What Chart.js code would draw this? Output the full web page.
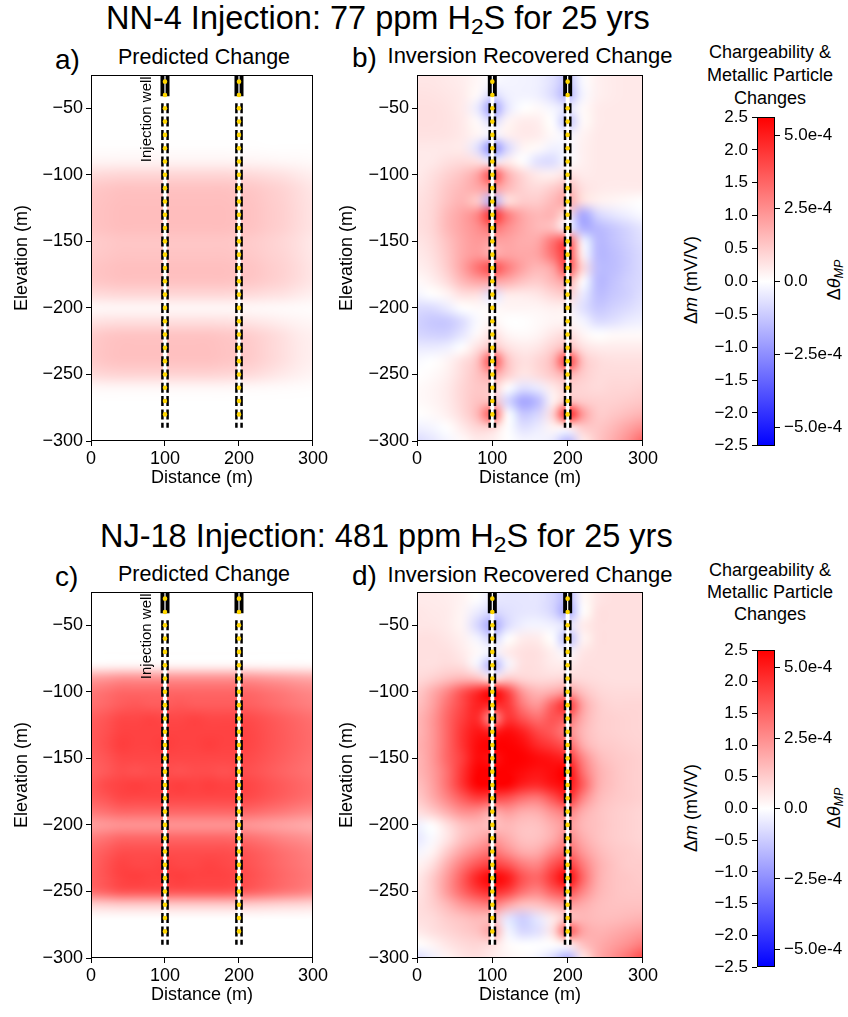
<!DOCTYPE html>
<html>
<head>
<meta charset="utf-8">
<script src="https://cdn.jsdelivr.net/npm/chart.js@4.4.1/dist/chart.umd.min.js"></script>
<style>
  body { margin: 0; background: #fff; width: 848px; height: 1017px; position: relative; overflow: hidden;
         font-family: "Liberation Sans", Arial, Helvetica, sans-serif; color: #000; }
  canvas { position: absolute; }
  .t { position: absolute; white-space: nowrap; line-height: 1; transform: translate(0, -50%); }
  .c { position: absolute; white-space: nowrap; line-height: 1; transform: translate(-50%, -50%); }
  .r { position: absolute; white-space: nowrap; line-height: 1; transform: translate(-50%, -50%) rotate(-90deg); }
  sub { font-size: 0.7em; vertical-align: -0.22em; line-height: 0; }
</style>
</head>
<body>

<div class="t" style="left:106px; top:18px; font-size:32.5px;">NN-4 Injection: 77 ppm H<sub>2</sub>S for 25 yrs</div>
<div class="t" style="left:100px; top:536px; font-size:32.5px;">NJ-18 Injection: 481 ppm H<sub>2</sub>S for 25 yrs</div>

<div class="t" style="left:55px; top:60px; font-size:28px;">a)</div>
<div class="t" style="left:352px; top:58px; font-size:28px;">b)</div>
<div class="t" style="left:55px; top:577px; font-size:28px;">c)</div>
<div class="t" style="left:352px; top:576px; font-size:28px;">d)</div>

<div class="c" style="left:204px; top:58px; font-size:21.5px;">Predicted Change</div>
<div class="c" style="left:530px; top:56px; font-size:22px;">Inversion Recovered Change</div>
<div class="c" style="left:204px; top:575px; font-size:21.5px;">Predicted Change</div>
<div class="c" style="left:530px; top:575px; font-size:22px;">Inversion Recovered Change</div>

<div class="c" style="left:770px; top:75px; font-size:18px; line-height:23px; text-align:center;">Chargeability &amp;<br>Metallic Particle<br>Changes</div>
<div class="c" style="left:770px; top:592px; font-size:18px; line-height:22px; text-align:center;">Chargeability &amp;<br>Metallic Particle<br>Changes</div>

<div class="r" style="left:691px; top:280px; font-size:18px;">&Delta;<i>m</i> (mV/V)</div>
<div class="r" style="left:834px; top:280px; font-size:18px;">&Delta;<i>&theta;<sub>MP</sub></i></div>
<div class="r" style="left:691px; top:808px; font-size:18px;">&Delta;<i>m</i> (mV/V)</div>
<div class="r" style="left:834px; top:808px; font-size:18px;">&Delta;<i>&theta;<sub>MP</sub></i></div>

<canvas id="pa" width="330" height="431" style="left:0px; top:60px;"></canvas>
<canvas id="pb" width="330" height="431" style="left:330px; top:60px;"></canvas>
<canvas id="pc" width="330" height="431" style="left:0px; top:577px;"></canvas>
<canvas id="pd" width="330" height="431" style="left:330px; top:577px;"></canvas>
<canvas id="cb1" width="168" height="360" style="left:680px; top:100px;"></canvas>
<canvas id="cb2" width="168" height="360" style="left:680px; top:633px;"></canvas>

<script>
// grid of cell centres (m)
const gridX = [0, 20, 40, 60, 80, 100, 120, 140, 160, 180, 200, 220, 240, 260, 280, 300];
const gridY = [-30, -40, -50, -60, -70, -80, -90, -100, -110, -120, -130, -140, -150, -160, -170,
               -180, -190, -200, -210, -220, -230, -240, -250, -260, -270, -280, -290, -300];

// axis ticks
const xTicks = [0, 100, 200, 300];
const yTicks = [-300, -250, -200, -150, -100, -50];

// wells
const wellX = [100, 200];
const wellDots = [-30, -40, -50, -60, -70, -80, -90, -100, -110, -120, -130, -140, -150, -160,
                  -170, -180, -190, -200, -210, -220, -230, -240, -250, -260, -270, -280];

// colour bar
const cbMax = 2.5;
const cbTicks = [-2.5, -2.0, -1.5, -1.0, -0.5, 0.0, 0.5, 1.0, 1.5, 2.0, 2.5];
const thetaMax = 5.63e-4;
const thetaTicks = [-5e-4, -2.5e-4, 0, 2.5e-4, 5e-4];
const thetaLabels = ['\u22125.0e-4', '\u22122.5e-4', '0.0', '2.5e-4', '5.0e-4'];

// Δm (mV/V), one row per gridY, one column per gridX
const predNN4 = [
  [0,0,0,0,0,0,0,0,0,0,0,0,0,0,0,0],
  [0,0,0,0,0,0,0,0,0,0,0,0,0,0,0,0],
  [0,0,0,0,0,0,0,0,0,0,0,0,0,0,0,0],
  [0,0,0,0,0,0,0,0,0,0,0,0,0,0,0,0],
  [0,0,0,0,0,0,0,0,0,0,0,0,0,0,0,0],
  [0.02,0.02,0.02,0.02,0.02,0.02,0.02,0.02,0.02,0.02,0.02,0.02,0.01,0.01,0.01,0.01],
  [0.11,0.11,0.12,0.12,0.12,0.12,0.12,0.12,0.12,0.12,0.11,0.11,0.1,0.08,0.07,0.05],
  [0.36,0.38,0.4,0.4,0.4,0.4,0.4,0.4,0.4,0.4,0.38,0.36,0.32,0.28,0.22,0.16],
  [0.54,0.57,0.6,0.6,0.6,0.6,0.6,0.6,0.6,0.6,0.57,0.54,0.48,0.42,0.33,0.24],
  [0.58,0.61,0.64,0.64,0.64,0.64,0.64,0.64,0.64,0.64,0.61,0.58,0.51,0.45,0.35,0.26],
  [0.59,0.62,0.65,0.65,0.65,0.65,0.65,0.65,0.65,0.65,0.62,0.59,0.52,0.46,0.36,0.26],
  [0.58,0.61,0.64,0.64,0.64,0.64,0.64,0.64,0.64,0.64,0.61,0.58,0.51,0.45,0.35,0.26],
  [0.5,0.53,0.56,0.56,0.56,0.56,0.56,0.56,0.56,0.56,0.53,0.5,0.45,0.39,0.31,0.22],
  [0.52,0.55,0.58,0.58,0.58,0.58,0.58,0.58,0.58,0.58,0.55,0.52,0.46,0.41,0.32,0.23],
  [0.57,0.6,0.63,0.63,0.63,0.63,0.63,0.63,0.63,0.63,0.6,0.57,0.5,0.44,0.35,0.25],
  [0.54,0.57,0.6,0.6,0.6,0.6,0.6,0.6,0.6,0.6,0.57,0.54,0.48,0.42,0.33,0.24],
  [0.34,0.36,0.38,0.38,0.38,0.38,0.38,0.38,0.38,0.38,0.36,0.34,0.3,0.27,0.21,0.15],
  [0.07,0.08,0.08,0.08,0.08,0.08,0.08,0.08,0.08,0.08,0.08,0.07,0.06,0.05,0.04,0.03],
  [0.26,0.29,0.3,0.3,0.3,0.3,0.3,0.3,0.3,0.29,0.27,0.24,0.2,0.15,0.11,0.08],
  [0.49,0.55,0.58,0.58,0.58,0.58,0.58,0.58,0.58,0.55,0.52,0.46,0.38,0.29,0.2,0.15],
  [0.53,0.59,0.62,0.62,0.62,0.62,0.62,0.62,0.62,0.59,0.56,0.5,0.4,0.31,0.22,0.16],
  [0.51,0.57,0.6,0.6,0.6,0.6,0.6,0.6,0.6,0.57,0.54,0.48,0.39,0.3,0.21,0.15],
  [0.36,0.4,0.42,0.42,0.42,0.42,0.42,0.42,0.42,0.4,0.38,0.34,0.27,0.21,0.15,0.1],
  [0.07,0.08,0.08,0.08,0.08,0.08,0.08,0.08,0.08,0.08,0.07,0.06,0.05,0.04,0.03,0.02],
  [0,0,0,0,0,0,0,0,0,0,0,0,0,0,0,0],
  [0,0,0,0,0,0,0,0,0,0,0,0,0,0,0,0],
  [0,0,0,0,0,0,0,0,0,0,0,0,0,0,0,0],
  [0,0,0,0,0,0,0,0,0,0,0,0,0,0,0,0]
];

const invNN4 = [
  [0.25,0.25,0.22,0.18,0.08,-0.05,-0.1,-0.12,-0.15,-0.3,-0.6,-0.05,0.15,0.2,0.22,0.22],
  [0.28,0.27,0.25,0.2,0.05,-0.35,-0.15,-0.12,-0.15,-0.35,-0.75,-0.1,0.15,0.2,0.22,0.22],
  [0.3,0.3,0.27,0.2,-0.2,-1.0,-0.25,0.0,0.05,-0.1,-0.25,0.05,0.2,0.22,0.22,0.22],
  [0.3,0.3,0.28,0.22,0.05,-0.35,0.1,0.2,0.18,0.0,-0.6,0.05,0.2,0.22,0.22,0.22],
  [0.28,0.28,0.27,0.22,0.1,-0.1,0.15,0.22,0.2,0.05,-0.1,0.12,0.22,0.22,0.22,0.22],
  [0.22,0.22,0.22,0.2,-0.3,-1.2,-0.4,0.1,0.05,-0.15,-0.1,0.15,0.22,0.22,0.22,0.22],
  [0.2,0.22,0.3,0.35,0.3,-0.2,0.2,0.0,-0.3,-0.35,-0.05,0.15,0.22,0.22,0.22,0.22],
  [0.2,0.3,0.45,0.6,0.9,1.8,0.8,0.4,0.2,0.15,0.3,0.2,0.22,0.22,0.22,0.22],
  [0.25,0.35,0.55,0.7,0.85,1.0,0.7,0.45,0.35,0.5,0.7,0.3,0.22,0.2,0.2,0.2],
  [0.28,0.38,0.6,0.75,0.5,-0.8,0.3,0.5,0.5,0.7,0.9,0.3,0.15,0.1,0.05,0.0],
  [0.3,0.4,0.7,0.9,1.2,2.1,1.3,0.85,0.7,0.75,0.3,-0.9,-0.4,-0.25,-0.15,-0.05],
  [0.3,0.4,0.7,0.9,1.1,1.4,1.1,0.85,0.7,0.6,-0.1,-0.8,-0.7,-0.55,-0.4,-0.25],
  [0.25,0.35,0.6,0.85,1.0,0.9,0.9,0.8,0.85,1.4,1.8,-0.1,-0.7,-0.6,-0.45,-0.3],
  [0.2,0.3,0.55,0.85,1.0,0.8,0.9,0.85,0.9,1.4,1.9,0.1,-0.7,-0.65,-0.5,-0.35],
  [0.15,0.25,0.5,0.9,1.4,1.8,1.3,0.9,0.7,0.9,1.8,0.4,-0.65,-0.65,-0.5,-0.35],
  [0.05,0.15,0.35,0.7,0.9,0.9,0.8,0.6,0.5,0.7,0.9,0.0,-0.7,-0.6,-0.45,-0.35],
  [-0.1,0.0,0.1,0.3,0.3,-0.3,0.2,0.2,0.25,0.4,0.5,-0.2,-0.65,-0.55,-0.45,-0.3],
  [-0.35,-0.35,-0.2,0.0,0.05,0.05,0.1,0.1,0.1,0.15,0.15,-0.3,-0.55,-0.45,-0.35,-0.25],
  [-0.45,-0.55,-0.55,-0.35,-0.05,0.1,0.0,0.0,0.05,0.1,0.1,-0.1,-0.35,-0.3,-0.2,-0.15],
  [-0.4,-0.45,-0.45,-0.25,0.05,0.3,0.1,0.05,0.1,0.25,0.35,0.1,0.0,0.05,0.05,0.05],
  [-0.2,-0.2,-0.15,0.0,0.3,0.6,0.3,0.2,0.25,0.45,0.7,0.3,0.2,0.2,0.2,0.2],
  [-0.05,0.0,0.1,0.3,0.6,1.8,0.6,0.3,0.4,0.7,2.0,0.6,0.35,0.3,0.3,0.3],
  [0.0,0.05,0.15,0.35,0.6,0.9,0.5,0.25,0.35,0.55,0.8,0.5,0.35,0.35,0.35,0.35],
  [0.05,0.1,0.2,0.4,0.55,0.5,0.0,-0.3,-0.2,0.2,0.45,0.4,0.35,0.4,0.4,0.45],
  [0.05,0.1,0.2,0.4,0.6,0.6,-0.4,-0.9,-0.7,0.1,0.6,0.5,0.45,0.45,0.5,0.55],
  [0.0,0.05,0.15,0.35,0.7,1.7,0.0,-0.55,-0.4,0.4,2.3,1.0,0.5,0.55,0.65,0.75],
  [-0.15,-0.1,0.0,0.2,0.4,0.4,0.0,-0.3,-0.2,0.1,0.1,0.5,0.55,0.7,0.9,1.1],
  [-0.35,-0.25,-0.1,0.05,0.2,0.15,0.0,-0.1,-0.1,-0.2,-0.7,0.2,0.55,0.8,1.1,1.5]
];

const predNJ18 = [
  [0,0,0,0,0,0,0,0,0,0,0,0,0,0,0,0],
  [0,0,0,0,0,0,0,0,0,0,0,0,0,0,0,0],
  [0,0,0,0,0,0,0,0,0,0,0,0,0,0,0,0],
  [0,0,0,0,0,0,0,0,0,0,0,0,0,0,0,0],
  [0,0,0,0,0,0,0,0,0,0,0,0,0,0,0,0],
  [0.06,0.07,0.08,0.08,0.08,0.08,0.08,0.08,0.08,0.08,0.08,0.08,0.07,0.07,0.07,0.06],
  [0.97,1.02,1.1,1.1,1.1,1.1,1.1,1.1,1.1,1.1,1.1,1.07,1.01,0.96,0.9,0.86],
  [1.32,1.4,1.5,1.5,1.5,1.5,1.5,1.5,1.5,1.5,1.5,1.46,1.38,1.31,1.23,1.17],
  [1.41,1.49,1.6,1.65,1.6,1.6,1.65,1.6,1.6,1.6,1.6,1.55,1.47,1.39,1.31,1.25],
  [1.58,1.67,1.8,1.8,1.85,1.8,1.8,1.85,1.8,1.8,1.8,1.75,1.66,1.57,1.48,1.4],
  [1.63,1.72,1.85,1.85,1.85,1.85,1.85,1.85,1.85,1.85,1.85,1.79,1.7,1.61,1.52,1.44],
  [1.63,1.75,1.9,1.85,1.85,1.9,1.85,1.85,1.9,1.85,1.85,1.79,1.7,1.61,1.52,1.44],
  [1.58,1.67,1.8,1.8,1.8,1.8,1.8,1.8,1.8,1.8,1.8,1.75,1.66,1.57,1.48,1.4],
  [1.54,1.63,1.75,1.7,1.75,1.75,1.7,1.75,1.75,1.7,1.75,1.7,1.61,1.52,1.44,1.37],
  [1.63,1.78,1.85,1.9,1.85,1.85,1.9,1.85,1.9,1.85,1.85,1.79,1.7,1.61,1.52,1.44],
  [1.58,1.67,1.8,1.8,1.8,1.8,1.8,1.8,1.8,1.8,1.8,1.75,1.66,1.57,1.48,1.4],
  [1.32,1.4,1.5,1.5,1.5,1.5,1.5,1.5,1.5,1.5,1.5,1.46,1.38,1.31,1.23,1.17],
  [0.95,1.0,1.05,1.05,1.05,1.05,1.05,1.05,1.05,1.05,1.05,1.0,0.95,0.9,0.85,0.8],
  [1.28,1.38,1.5,1.5,1.5,1.5,1.5,1.5,1.5,1.5,1.46,1.38,1.29,1.2,1.13,1.05],
  [1.49,1.61,1.75,1.75,1.75,1.75,1.75,1.75,1.75,1.75,1.7,1.61,1.51,1.4,1.31,1.23],
  [1.53,1.7,1.85,1.8,1.8,1.85,1.8,1.8,1.85,1.8,1.75,1.66,1.55,1.44,1.35,1.26],
  [1.57,1.7,1.85,1.9,1.85,1.85,1.9,1.85,1.85,1.85,1.79,1.7,1.59,1.48,1.39,1.3],
  [1.45,1.56,1.7,1.7,1.7,1.7,1.7,1.7,1.7,1.7,1.65,1.56,1.46,1.36,1.28,1.19],
  [0.43,0.46,0.5,0.5,0.5,0.5,0.5,0.5,0.5,0.5,0.49,0.46,0.43,0.4,0.38,0.35],
  [0,0,0,0,0,0,0,0,0,0,0,0,0,0,0,0],
  [0,0,0,0,0,0,0,0,0,0,0,0,0,0,0,0],
  [0,0,0,0,0,0,0,0,0,0,0,0,0,0,0,0],
  [0,0,0,0,0,0,0,0,0,0,0,0,0,0,0,0]
];

const invNJ18 = [
  [0.2,0.2,0.18,0.12,0.0,-0.2,-0.25,-0.25,-0.25,-0.4,-0.7,0.05,0.25,0.3,0.3,0.3],
  [0.25,0.22,0.2,0.1,-0.2,-0.4,-0.3,-0.25,-0.25,-0.4,-0.9,0.0,0.3,0.3,0.3,0.3],
  [0.25,0.25,0.2,0.1,-0.4,-0.9,-0.35,-0.15,-0.1,-0.15,-0.25,0.2,0.3,0.3,0.3,0.3],
  [0.3,0.3,0.25,0.15,-0.1,-0.45,0.0,0.2,0.2,0.0,-0.7,0.1,0.3,0.3,0.3,0.3],
  [0.3,0.3,0.3,0.2,0.05,-0.1,0.2,0.3,0.3,0.15,-0.1,0.25,0.3,0.3,0.3,0.3],
  [0.3,0.3,0.35,0.3,-0.1,-0.8,-0.1,0.3,0.3,0.2,0.2,0.3,0.3,0.3,0.3,0.3],
  [0.35,0.45,0.6,0.7,0.6,0.2,0.5,0.4,0.35,0.35,0.4,0.35,0.32,0.3,0.3,0.3],
  [0.5,0.8,1.2,1.7,2.1,2.5,1.9,1.0,0.7,0.8,1.0,0.6,0.4,0.35,0.35,0.35],
  [0.6,0.9,1.4,1.8,2.2,2.1,2.0,1.3,1.0,1.6,2.1,0.9,0.5,0.4,0.4,0.4],
  [0.7,1.0,1.5,1.9,2.1,1.0,2.0,1.7,1.4,1.7,1.5,0.8,0.5,0.45,0.42,0.4],
  [0.7,1.0,1.5,2.0,2.3,2.2,2.4,2.2,1.8,1.6,1.2,0.7,0.5,0.45,0.42,0.4],
  [0.75,1.0,1.5,2.0,2.4,2.5,2.5,2.4,2.1,1.9,1.6,0.8,0.55,0.5,0.45,0.42],
  [0.7,1.0,1.5,1.9,2.4,2.3,2.5,2.5,2.4,2.3,2.1,1.2,0.7,0.55,0.5,0.45],
  [0.7,0.95,1.4,2.0,2.5,2.5,2.5,2.4,2.3,2.4,2.5,1.4,0.8,0.6,0.5,0.45],
  [0.6,0.9,1.4,2.0,2.5,2.5,2.5,2.2,2.1,2.3,2.4,1.6,0.8,0.6,0.5,0.45],
  [0.5,0.8,1.2,1.6,1.9,1.8,1.7,1.4,1.3,1.7,2.1,1.2,0.7,0.55,0.5,0.45],
  [0.3,0.5,0.8,1.1,1.1,0.8,1.0,0.8,0.8,1.1,1.3,0.8,0.6,0.5,0.45,0.4],
  [-0.15,0.0,0.3,0.6,0.7,0.6,0.7,0.6,0.6,0.8,1.0,0.7,0.6,0.5,0.45,0.4],
  [-0.25,-0.05,0.25,0.6,0.8,1.0,0.8,0.6,0.6,0.8,1.2,0.8,0.6,0.5,0.45,0.4],
  [-0.1,0.1,0.5,0.9,1.2,1.4,1.1,0.8,0.8,1.2,1.5,1.0,0.7,0.55,0.5,0.45],
  [0.1,0.3,0.8,1.3,1.7,1.9,1.7,1.3,1.2,1.7,2.0,1.3,0.8,0.6,0.5,0.5],
  [0.2,0.5,1.0,1.6,2.2,2.5,2.3,1.7,1.5,2.0,2.5,1.5,0.8,0.6,0.55,0.5],
  [0.25,0.5,1.0,1.5,1.9,2.1,1.9,1.4,1.2,1.6,1.8,1.2,0.75,0.6,0.55,0.55],
  [0.3,0.45,0.7,1.0,1.2,1.3,0.9,0.6,0.6,0.8,1.0,0.8,0.65,0.6,0.6,0.6],
  [0.3,0.35,0.5,0.6,0.7,0.6,-0.25,-0.5,-0.25,0.2,0.6,0.7,0.65,0.65,0.7,0.75],
  [0.2,0.3,0.4,0.5,0.6,0.9,-0.1,-0.4,-0.3,0.3,1.7,0.9,0.75,0.8,0.9,1.0],
  [0.0,0.1,0.25,0.35,0.4,0.3,0.05,0.0,0.0,0.0,0.1,0.6,0.8,0.95,1.1,1.3],
  [-0.35,-0.15,0.1,0.25,0.3,0.2,0.1,0.05,-0.1,-0.35,-0.8,0.2,0.8,1.1,1.4,1.8]
];

Chart.defaults.font.family = '"Liberation Sans", Arial, Helvetica, sans-serif';
Chart.defaults.color = '#000';

const minus = s => String(s).replace('-', '\u2212');

// matplotlib "bwr"
function bwr(v) {
  const t = Math.max(-1, Math.min(1, v / cbMax));
  if (t < 0) { const c = Math.round(255 * (1 + t)); return [c, c, 255]; }
  const c = Math.round(255 * (1 - t));
  return [255, c, c];
}

// draws the value grid behind the datasets, placed by the scales
const heatPlugin = {
  id: 'heat',
  beforeDatasetsDraw(chart, args, opts) {
    if (!opts.values) return;
    const { ctx, chartArea: a, scales: { x, y } } = chart;
    const cols = gridX.length, rows = gridY.length;
    const off = document.createElement('canvas');
    off.width = cols; off.height = rows;
    const octx = off.getContext('2d');
    const img = octx.createImageData(cols, rows);
    opts.values.forEach((row, j) => row.forEach((v, i) => {
      const [r, g, b] = bwr(v);
      const k = (j * cols + i) * 4;
      img.data[k] = r; img.data[k + 1] = g; img.data[k + 2] = b; img.data[k + 3] = 255;
    }));
    octx.putImageData(img, 0, 0);
    const dx = gridX[1] - gridX[0], dy = gridY[0] - gridY[1];
    const x0 = x.getPixelForValue(gridX[0] - dx / 2), x1 = x.getPixelForValue(gridX[cols - 1] + dx / 2);
    const y0 = y.getPixelForValue(gridY[0] + dy / 2), y1 = y.getPixelForValue(gridY[rows - 1] - dy / 2);
    ctx.save();
    ctx.beginPath();
    ctx.rect(a.left, a.top, a.width, a.height);
    ctx.clip();
    ctx.imageSmoothingEnabled = true;
    ctx.imageSmoothingQuality = 'high';
    ctx.drawImage(off, x0, y0, x1 - x0, y1 - y0);
    ctx.restore();
  },
  afterDatasetsDraw(chart, args, opts) {
    const { ctx, chartArea: a, scales: { x, y } } = chart;
    ctx.save();
    if (opts.label) {
      ctx.translate(x.getPixelForValue(wellX[0]) - 18.5, y.getPixelForValue(-26));
      ctx.rotate(-Math.PI / 2);
      ctx.font = '15px "Liberation Sans", Arial, sans-serif';
      ctx.fillStyle = '#000';
      ctx.textAlign = 'right';
      ctx.textBaseline = 'middle';
      ctx.fillText(opts.label, 0, 0);
      ctx.setTransform(1, 0, 0, 1, 0, 0);
    }
    ctx.strokeStyle = '#000';
    ctx.lineWidth = 1;
    ctx.strokeRect(Math.round(a.left) + 0.5, Math.round(a.top) + 0.5, Math.round(a.width) - 1, Math.round(a.height) - 1);
    ctx.restore();
  }
};

function wellSets() {
  const sets = [];
  wellX.forEach(wx => {
    sets.push({ data: wellDots.map(d => ({ x: wx, y: d })), pointRadius: 2.3, pointBackgroundColor: '#ffd700',
                pointBorderWidth: 0, showLine: false, order: 1 });
    [-3.5, 3.5].forEach(o => sets.push({ data: [{ x: wx + o, y: -46.25 }, { x: wx + o, y: -290 }], showLine: true,
                borderColor: '#000', borderWidth: 2.5, borderDash: [10, 3.31], pointRadius: 0, order: 2 }));
    sets.push({ data: [{ x: wx, y: -25 }, { x: wx, y: -41 }], showLine: true, borderColor: '#fff',
                borderWidth: 1.2, pointRadius: 0, order: 3 });
    sets.push({ data: [{ x: wx, y: -25 }, { x: wx, y: -41 }], showLine: true, borderColor: '#000',
                borderWidth: 9, pointRadius: 0, order: 4 });
    sets.push({ data: [{ x: wx, y: -41 }, { x: wx, y: -290 }], showLine: true, borderColor: '#fff',
                borderWidth: 4, pointRadius: 0, order: 5 });
  });
  return sets;
}

function makePanel(id, values, left, label) {
  new Chart(document.getElementById(id), {
    type: 'scatter',
    data: { datasets: wellSets() },
    plugins: [heatPlugin],
    options: {
      responsive: false,
      animation: false,
      events: [],
      layout: { padding: { top: 15, right: left ? 12 : 16, bottom: 0, left: 0 } },
      plugins: { legend: { display: false }, tooltip: { enabled: false }, heat: { values: values, label: label } },
      scales: {
        x: {
          type: 'linear', min: 0, max: 300,
          afterBuildTicks: s => { s.ticks = xTicks.map(v => ({ value: v })); },
          afterFit: s => { s.height = 50; },
          ticks: { font: { size: 18 }, color: '#000', padding: 2, maxRotation: 0 },
          grid: { drawOnChartArea: false, drawTicks: true, tickLength: 5, tickColor: '#000' },
          border: { display: false },
          title: { display: true, text: 'Distance (m)', font: { size: 18 }, color: '#000', padding: { top: 0, bottom: 2 } }
        },
        y: {
          type: 'linear', min: -300, max: -25,
          afterBuildTicks: s => { s.ticks = yTicks.map(v => ({ value: v })); },
          afterFit: s => { s.width = left ? 91 : 87; },
          ticks: { font: { size: 18 }, color: '#000', padding: 3, callback: v => minus(v) },
          grid: { drawOnChartArea: false, drawTicks: true, tickLength: 5, tickColor: '#000' },
          border: { display: false },
          title: { display: true, text: 'Elevation (m)', font: { size: 18 }, color: '#000', padding: { top: left ? 11 : 6, bottom: 0 } }
        }
      }
    }
  });
}

const cbPlugin = {
  id: 'cbar',
  beforeDatasetsDraw(chart) {
    const { ctx, chartArea: a, scales: { y } } = chart;
    const g = ctx.createLinearGradient(0, y.getPixelForValue(-cbMax), 0, y.getPixelForValue(cbMax));
    g.addColorStop(0, 'rgb(0,0,255)');
    g.addColorStop(0.5, 'rgb(255,255,255)');
    g.addColorStop(1, 'rgb(255,0,0)');
    ctx.save();
    ctx.fillStyle = g;
    ctx.fillRect(a.left, a.top, a.width, a.height);
    ctx.strokeStyle = '#000';
    ctx.lineWidth = 1;
    ctx.strokeRect(Math.round(a.left) + 0.5, Math.round(a.top) + 0.5, Math.round(a.width) - 1, Math.round(a.height) - 1);
    ctx.restore();
  }
};

function makeBar(id, padBottom) {
  new Chart(document.getElementById(id), {
    type: 'scatter',
    data: { datasets: [] },
    plugins: [cbPlugin],
    options: {
      responsive: false,
      animation: false,
      events: [],
      layout: { padding: { top: 17, right: 0, bottom: padBottom, left: 0 } },
      plugins: { legend: { display: false }, tooltip: { enabled: false } },
      scales: {
        x: { type: 'linear', display: false, min: 0, max: 1 },
        y: {
          type: 'linear', position: 'left', display: true, min: -cbMax, max: cbMax,
          afterBuildTicks: s => { s.ticks = cbTicks.map(v => ({ value: v })); },
          afterFit: s => { s.width = 77; },
          ticks: { font: { size: 17 }, color: '#000', padding: 4, callback: v => minus(v.toFixed(1)) },
          grid: { drawOnChartArea: false, drawTicks: true, tickLength: 5, tickColor: '#000' },
          border: { display: false }
        },
        y2: {
          type: 'linear', position: 'right', display: true, min: -thetaMax, max: thetaMax,
          afterBuildTicks: s => { s.ticks = thetaTicks.map(v => ({ value: v })); },
          afterFit: s => { s.width = 73; },
          ticks: { font: { size: 17 }, color: '#000', padding: 4, callback: (v, i) => thetaLabels[i] },
          grid: { drawOnChartArea: false, drawTicks: true, tickLength: 5, tickColor: '#000' },
          border: { display: false }
        }
      }
    }
  });
}

makePanel('pa', predNN4, true, 'Injection well');
makePanel('pb', invNN4, false, null);
makePanel('pc', predNJ18, true, 'Injection well');
makePanel('pd', invNJ18, false, null);
makeBar('cb1', 14);
makeBar('cb2', 26);
</script>
</body>
</html>
